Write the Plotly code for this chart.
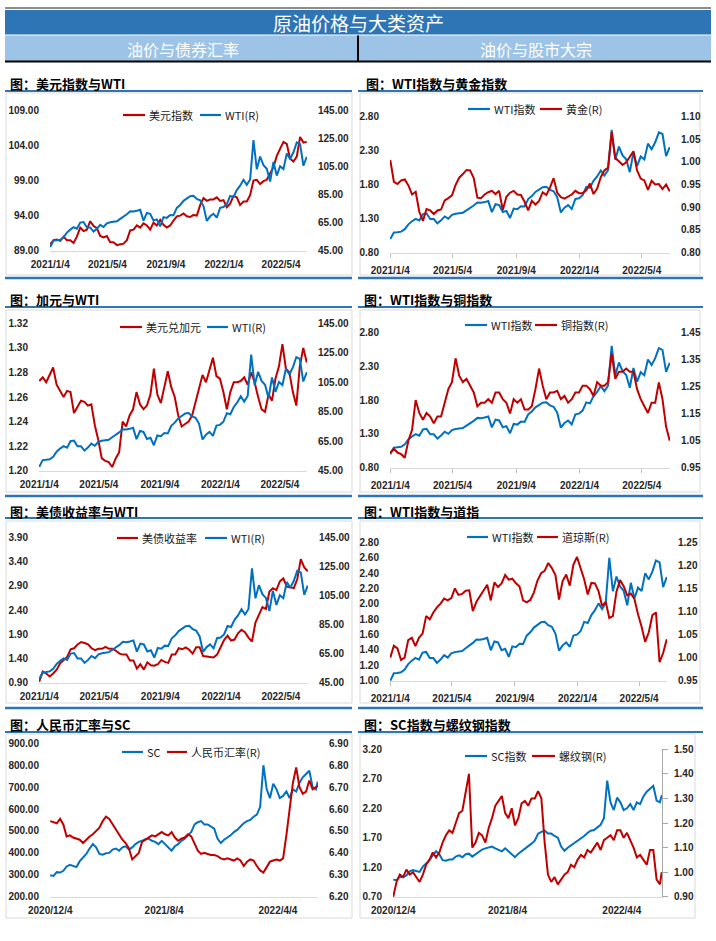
import plotly.graph_objects as go
import pandas as pd

W, H = 716, 941
RED = "#C00000"
BLUE = "#0070C0"
CJK = "Noto Sans CJK SC"
NUM = "Liberation Sans"
TXT = "#262626"

# ---------------- dates ----------------
dates_a = list(pd.date_range("2021-01-04", "2022-06-27", freq="7D"))
dates_b = list(pd.date_range("2020-12-04", "2022-06-24", freq="7D")) + [pd.Timestamp("2022-06-28")]

ticks_a = ["2021-01-04", "2021-05-04", "2021-09-04", "2022-01-04", "2022-05-04"]
ticks_a_text = ["2021/1/4", "2021/5/4", "2021/9/4", "2022/1/4", "2022/5/4"]
ticks_b = ["2020-12-04", "2021-08-04", "2022-04-04"]
ticks_b_text = ["2020/12/4", "2021/8/4", "2022/4/4"]

# ---------------- series (weekly readings) ----------------
wti = [47.6, 52.2, 52.4, 52.8, 54.5, 57.9, 60.0, 61.7, 60.6, 65.0,
       65.4, 61.6, 61.6, 58.6, 60.7, 63.4, 61.9, 64.5, 65.3, 65.5,
       66.0, 67.7, 69.2, 71.0, 73.1, 72.9, 73.4, 74.1, 66.4, 71.9,
       71.3, 66.5, 67.3, 62.3, 68.9, 68.4, 70.5, 70.3, 75.5, 77.6,
       80.5, 82.4, 83.8, 84.1, 81.9, 80.9, 76.8, 66.2, 69.5, 71.3,
       68.6, 75.6, 76.1, 78.2, 84.0, 83.3, 88.2, 91.3, 95.5, 91.9,
       95.7, 123.7, 103.0, 112.1, 105.9, 103.3, 94.3, 108.2, 98.5, 105.2,
       103.1, 114.2, 110.3, 115.1, 122.1, 120.9, 105.5, 111.8]

wti_idx = [1.000, 1.097, 1.101, 1.109, 1.145, 1.216, 1.261, 1.296, 1.273, 1.366,
           1.374, 1.294, 1.294, 1.231, 1.275, 1.332, 1.300, 1.355, 1.372, 1.376,
           1.387, 1.422, 1.454, 1.492, 1.536, 1.532, 1.542, 1.557, 1.395, 1.511,
           1.498, 1.397, 1.414, 1.309, 1.447, 1.437, 1.481, 1.477, 1.586, 1.630,
           1.691, 1.731, 1.761, 1.767, 1.721, 1.700, 1.613, 1.391, 1.460, 1.498,
           1.441, 1.588, 1.599, 1.643, 1.765, 1.750, 1.853, 1.918, 2.006, 1.931,
           2.011, 2.599, 2.164, 2.355, 2.225, 2.170, 1.981, 2.273, 2.069, 2.210,
           2.166, 2.399, 2.317, 2.418, 2.565, 2.540, 2.216, 2.349]

dxy = [89.9, 90.5, 90.6, 90.4, 91.0, 90.5, 90.5, 90.1, 91.0, 92.3,
       91.8, 92.0, 93.2, 92.5, 92.2, 91.1, 90.9, 91.1, 90.2, 90.2,
       89.8, 89.9, 90.0, 90.5, 91.9, 92.0, 92.6, 92.3, 92.9, 92.6,
       92.0, 93.0, 92.6, 93.4, 92.7, 92.3, 92.6, 93.3, 93.9, 94.0,
       94.3, 93.9, 93.8, 94.1, 94.0, 95.5, 96.5, 96.1, 96.3, 96.3,
       96.6, 96.1, 96.2, 95.2, 95.7, 96.8, 96.6, 95.5, 96.0, 96.0,
       96.9, 99.0, 99.1, 98.5, 98.9, 99.1, 100.0, 100.9, 102.5, 103.6,
       104.5, 104.2, 102.1, 101.7, 102.4, 105.2, 104.4, 104.5]

usdcad = [1.273, 1.276, 1.272, 1.278, 1.284, 1.270, 1.265, 1.260, 1.265, 1.264,
          1.247, 1.252, 1.257, 1.256, 1.253, 1.254, 1.237, 1.225, 1.210, 1.208,
          1.207, 1.203, 1.210, 1.215, 1.240, 1.236, 1.245, 1.250, 1.264, 1.254,
          1.250, 1.253, 1.262, 1.283, 1.262, 1.255, 1.268, 1.281, 1.268, 1.260,
          1.245, 1.236, 1.238, 1.240, 1.245, 1.256, 1.268, 1.278, 1.272, 1.283,
          1.292, 1.277, 1.275, 1.264, 1.250, 1.264, 1.272, 1.272, 1.273, 1.276,
          1.270, 1.280, 1.272, 1.260, 1.250, 1.248, 1.262, 1.257, 1.275, 1.285,
          1.303, 1.283, 1.280, 1.264, 1.253, 1.285, 1.300, 1.288]

ust10y = [0.92, 1.13, 1.09, 1.03, 1.09, 1.17, 1.30, 1.37, 1.43, 1.59,
          1.61, 1.69, 1.74, 1.72, 1.69, 1.61, 1.57, 1.60, 1.60, 1.64,
          1.60, 1.60, 1.56, 1.50, 1.48, 1.48, 1.36, 1.36, 1.19, 1.28,
          1.17, 1.32, 1.26, 1.25, 1.28, 1.37, 1.33, 1.31, 1.48, 1.48,
          1.61, 1.59, 1.63, 1.58, 1.50, 1.63, 1.63, 1.45, 1.44, 1.42,
          1.42, 1.48, 1.63, 1.78, 1.87, 1.77, 1.79, 1.92, 1.99, 1.94,
          1.83, 1.75, 2.14, 2.32, 2.46, 2.42, 2.78, 2.85, 2.81, 2.99,
          3.05, 2.88, 2.86, 2.85, 3.04, 3.45, 3.28, 3.20]

gold_idx = [1.004, 0.956, 0.951, 0.959, 0.961, 0.948, 0.928, 0.934, 0.890, 0.870,
            0.896, 0.893, 0.885, 0.893, 0.895, 0.915, 0.920, 0.926, 0.949, 0.965,
            0.973, 0.982, 0.981, 0.964, 0.921, 0.920, 0.928, 0.933, 0.936, 0.929,
            0.936, 0.894, 0.923, 0.932, 0.936, 0.928, 0.927, 0.912, 0.893, 0.914,
            0.906, 0.914, 0.933, 0.927, 0.943, 0.964, 0.932, 0.922, 0.919, 0.923,
            0.928, 0.936, 0.931, 0.931, 0.937, 0.952, 0.929, 0.941, 0.966, 0.981,
            0.987, 1.065, 1.008, 1.001, 0.993, 0.999, 1.010, 1.023, 0.981, 0.963,
            0.959, 0.938, 0.958, 0.950, 0.951, 0.940, 0.950, 0.935]

copper_idx = [1.005, 1.020, 1.006, 1.000, 0.987, 1.050, 1.089, 1.200, 1.152, 1.127,
              1.152, 1.139, 1.114, 1.139, 1.139, 1.190, 1.240, 1.266, 1.354, 1.290,
              1.266, 1.278, 1.253, 1.228, 1.177, 1.190, 1.190, 1.203, 1.190, 1.228,
              1.228, 1.203, 1.190, 1.150, 1.203, 1.190, 1.203, 1.165, 1.165, 1.177,
              1.240, 1.316, 1.253, 1.203, 1.228, 1.228, 1.234, 1.203, 1.215, 1.190,
              1.203, 1.228, 1.228, 1.253, 1.253, 1.240, 1.215, 1.266, 1.253, 1.253,
              1.266, 1.370, 1.278, 1.304, 1.304, 1.316, 1.304, 1.304, 1.240, 1.203,
              1.177, 1.152, 1.190, 1.190, 1.265, 1.203, 1.101, 1.050]

dow_idx = [1.000, 1.026, 1.020, 0.995, 1.000, 1.038, 1.043, 1.025, 1.043, 1.052,
           1.090, 1.083, 1.098, 1.109, 1.117, 1.128, 1.124, 1.129, 1.150, 1.136,
           1.138, 1.145, 1.146, 1.101, 1.121, 1.134, 1.144, 1.158, 1.124, 1.163,
           1.153, 1.161, 1.179, 1.169, 1.171, 1.161, 1.154, 1.124, 1.120, 1.125,
           1.141, 1.167, 1.183, 1.188, 1.205, 1.194, 1.179, 1.126, 1.166, 1.180,
           1.156, 1.201, 1.218, 1.193, 1.170, 1.137, 1.162, 1.161, 1.144, 1.112,
           1.121, 1.086, 1.090, 1.143, 1.168, 1.155, 1.135, 1.139, 1.127, 1.094,
           1.067, 1.034, 1.055, 1.092, 1.098, 0.990, 1.010, 1.040]

sc = [298, 295, 312, 310, 318, 338, 345, 340, 335, 362,
      378, 395, 420, 440, 425, 395, 392, 398, 400, 415,
      420, 410, 425, 430, 415, 425, 440, 450, 455, 462,
      465, 455, 450, 440, 455, 440, 425, 410, 430, 440,
      455, 465, 480, 495, 530, 540, 545, 530, 530, 520,
      510, 465, 445, 460, 470, 480, 495, 505, 520, 535,
      545, 550, 565, 575, 610, 800, 690, 650, 715, 690,
      650, 660, 680, 650, 690, 680, 720, 745, 760, 775,
      700, 690, 725]

usdcny = [6.545, 6.540, 6.535, 6.555, 6.530, 6.475, 6.480, 6.470, 6.465, 6.460,
          6.445, 6.460, 6.475, 6.485, 6.500, 6.515, 6.545, 6.565, 6.555, 6.530,
          6.510, 6.480, 6.460, 6.445, 6.420, 6.370, 6.385, 6.400, 6.450, 6.460,
          6.470, 6.480, 6.475, 6.485, 6.495, 6.485, 6.480, 6.495, 6.470, 6.455,
          6.465, 6.470, 6.485, 6.475, 6.445, 6.410, 6.395, 6.400, 6.395, 6.390,
          6.390, 6.385, 6.375, 6.370, 6.375, 6.370, 6.365, 6.375, 6.365, 6.340,
          6.360, 6.370, 6.365, 6.340, 6.320, 6.310, 6.335, 6.360, 6.365, 6.370,
          6.365, 6.375, 6.480, 6.600, 6.720, 6.790, 6.700, 6.670, 6.680, 6.730,
          6.690, 6.700, 6.705]

sc_idx = [0.99, 0.98, 1.04, 1.03, 1.06, 1.13, 1.15, 1.13, 1.12, 1.21,
          1.26, 1.32, 1.40, 1.47, 1.42, 1.32, 1.31, 1.33, 1.33, 1.38,
          1.40, 1.37, 1.42, 1.43, 1.38, 1.42, 1.47, 1.50, 1.52, 1.54,
          1.55, 1.52, 1.50, 1.47, 1.52, 1.47, 1.42, 1.37, 1.43, 1.47,
          1.52, 1.55, 1.60, 1.65, 1.77, 1.80, 1.82, 1.77, 1.77, 1.73,
          1.70, 1.55, 1.48, 1.53, 1.57, 1.60, 1.65, 1.68, 1.73, 1.78,
          1.82, 1.83, 1.88, 1.92, 2.03, 2.67, 2.30, 2.17, 2.38, 2.30,
          2.17, 2.20, 2.27, 2.17, 2.30, 2.27, 2.40, 2.48, 2.53, 2.58,
          2.33, 2.30, 2.42]

rebar_idx = [0.90, 0.96, 0.99, 0.98, 1.01, 0.99, 1.00, 0.98, 0.96, 0.99,
             1.03, 1.05, 1.08, 1.06, 1.08, 1.12, 1.15, 1.17, 1.16, 1.20,
             1.24, 1.25, 1.32, 1.40, 1.10, 1.12, 1.16, 1.15, 1.12, 1.18,
             1.22, 1.27, 1.29, 1.31, 1.24, 1.22, 1.26, 1.19, 1.22, 1.28,
             1.29, 1.27, 1.30, 1.30, 1.33, 1.30, 1.12, 0.99, 0.96, 0.98,
             0.95, 0.97, 0.99, 1.00, 1.03, 1.02, 1.05, 1.07, 1.06, 1.09,
             1.08, 1.10, 1.12, 1.09, 1.13, 1.14, 1.15, 1.13, 1.17, 1.17,
             1.14, 1.16, 1.13, 1.10, 1.06, 1.07, 1.05, 1.03, 1.09, 1.09,
             0.97, 0.95, 1.00]


def fx(p):
    return p / W


def fy(p):
    return 1 - p / H


RANGE_A = ["2021-01-03 12:00", "2022-06-27 12:00"]
RANGE_B = ["2020-12-03 12:00", "2022-06-28 12:00"]

# legend geometry: (y, line1 x0, line1 x1, text1 x, line2 x0, line2 x1, text2 x)
panels = [
    dict(x0=50, x1=307, yt=110, yb=251, d=dates_a, xr=RANGE_A, tv=ticks_a, tt=ticks_a_text, xt=False,
         lr=[89, 109], ld=5, rr=[45, 145], rd=20,
         lv=dxy, ln="美元指数", lc=RED, rv=wti, rn="WTI(R)", rc=BLUE,
         leg=(115, 123, 145, 147, 200, 221, 223)),
    dict(x0=390, x1=670, yt=116, yb=253, d=dates_a, xr=RANGE_A, tv=ticks_a, tt=ticks_a_text, xt=True,
         lr=[0.8, 2.8], ld=0.5, rr=[0.8, 1.1], rd=0.05,
         lv=wti_idx, ln="WTI指数", lc=BLUE, rv=gold_idx, rn="黄金(R)", rc=RED,
         leg=(109, 468, 490, 492, 540, 562, 564)),
    dict(x0=39, x1=307, yt=323, yb=471, d=dates_a, xr=RANGE_A, tv=ticks_a, tt=ticks_a_text, xt=False,
         lr=[1.20, 1.32], ld=0.02, rr=[45, 145], rd=20,
         lv=usdcad, ln="美元兑加元", lc=RED, rv=wti, rn="WTI(R)", rc=BLUE,
         leg=(327, 120, 142, 144, 207, 228, 230)),
    dict(x0=390, x1=670, yt=332, yb=468, d=dates_a, xr=RANGE_A, tv=ticks_a, tt=ticks_a_text, xt=True,
         lr=[0.8, 2.8], ld=0.5, rr=[0.95, 1.45], rd=0.1,
         lv=wti_idx, ln="WTI指数", lc=BLUE, rv=copper_idx, rn="铜指数(R)", rc=RED,
         leg=(325, 465, 487, 489, 535, 557, 559)),
    dict(x0=39, x1=308, yt=537, yb=683, d=dates_a, xr=RANGE_A, tv=ticks_a, tt=ticks_a_text, xt=False,
         lr=[0.9, 3.9], ld=0.5, rr=[45, 145], rd=20,
         lv=ust10y, ln="美债收益率", lc=RED, rv=wti, rn="WTI(R)", rc=BLUE,
         leg=(538, 117, 138, 140, 205, 227, 229)),
    dict(x0=390, x1=667, yt=542, yb=681, d=dates_a, xr=RANGE_A, tv=ticks_a, tt=ticks_a_text, xt=True,
         lr=[1.0, 2.8], ld=0.2, rr=[0.95, 1.25], rd=0.05,
         lv=wti_idx, ln="WTI指数", lc=BLUE, rv=dow_idx, rn="道琼斯(R)", rc=RED,
         leg=(537, 467, 488, 490, 537, 558, 560)),
    dict(x0=50, x1=318, yt=743, yb=897, d=dates_b, xr=RANGE_B, tv=ticks_b, tt=ticks_b_text, xt=False,
         lr=[200, 900], ld=100, rr=[6.2, 6.9], rd=0.1,
         lv=sc, ln="SC", lc=BLUE, rv=usdcny, rn="人民币汇率(R)", rc=RED,
         leg=(752, 122, 143, 145, 167, 187, 189)),
    dict(x0=393, x1=662, yt=749, yb=897, d=dates_b, xr=RANGE_B, tv=ticks_b, tt=ticks_b_text, xt=False,
         lr=[0.7, 3.2], ld=0.5, rr=[0.9, 1.5], rd=0.1,
         lv=sc_idx, ln="SC指数", lc=BLUE, rv=rebar_idx, rn="螺纹钢(R)", rc=RED,
         leg=(756, 465, 487, 489, 532, 555, 557), rline=True),
]

shapes = []
annotations = []


def line(x0, y0, x1, y1, color, width):
    shapes.append(dict(type="line", xref="paper", yref="paper", x0=fx(x0), y0=fy(y0), x1=fx(x1), y1=fy(y1),
                       line=dict(color=color, width=width)))


def rect(x0, y0, x1, y1, fill=None, color=None, width=0):
    shapes.append(dict(type="rect", xref="paper", yref="paper", x0=fx(x0), y0=fy(y0), x1=fx(x1), y1=fy(y1),
                       fillcolor=fill if fill else "rgba(0,0,0,0)",
                       line=dict(color=color if color else "rgba(0,0,0,0)", width=width), layer="below"))


def text(t, x, y, size, color, anchor="left", family=CJK):
    annotations.append(dict(text=t, x=fx(x), y=fy(y), xref="paper", yref="paper", showarrow=False,
                            xanchor=anchor, yanchor="middle", font=dict(family=family, size=size, color=color)))


tickfont = dict(family=NUM, size=10, color=TXT, weight="bold")
fig = go.Figure()
layout = {}
for k, p in enumerate(panels, start=1):
    xs = "" if k == 1 else str(k)
    yl = 2 * k - 1
    yr = 2 * k
    yls = "" if yl == 1 else str(yl)
    yrs = str(yr)
    fig.add_trace(go.Scatter(x=p["d"], y=p["lv"], name=p["ln"], mode="lines",
                             line=dict(color=p["lc"], width=2), xaxis="x" + xs, yaxis="y" + yls,
                             showlegend=False, hoverinfo="skip"))
    fig.add_trace(go.Scatter(x=p["d"], y=p["rv"], name=p["rn"], mode="lines",
                             line=dict(color=p["rc"], width=2), xaxis="x" + xs, yaxis="y" + yrs,
                             showlegend=False, hoverinfo="skip"))
    layout["xaxis" + xs] = dict(domain=[fx(p["x0"]), fx(p["x1"])], anchor="y" + yls, type="date",
                                range=p["xr"], tickmode="array", tickvals=p["tv"], ticktext=p["tt"],
                                showline=True, linecolor="#D9D9D9", linewidth=1,
                                ticks="outside" if p["xt"] else "", ticklen=4, tickcolor="#BFBFBF",
                                showgrid=False, zeroline=False, tickfont=tickfont,
                                ticklabelstandoff=4, automargin=False, fixedrange=True)
    le = (p["lr"][1] - p["lr"][0]) * 0.002
    re = (p["rr"][1] - p["rr"][0]) * 0.002
    layout["yaxis" + yls] = dict(domain=[fy(p["yb"]), fy(p["yt"])], anchor="x" + xs,
                                 range=[p["lr"][0] - le, p["lr"][1] + le], tick0=p["lr"][0], dtick=p["ld"],
                                 tickformat=".2f", showgrid=False, zeroline=False, showline=False,
                                 ticks="", tickfont=tickfont, ticklabelstandoff=10, automargin=False,
                                 fixedrange=True)
    ry = dict(overlaying="y" + yls, anchor="x" + xs, side="right",
              range=[p["rr"][0] - re, p["rr"][1] + re], tick0=p["rr"][0], dtick=p["rd"],
              tickformat=".2f", showgrid=False, zeroline=False, tickfont=tickfont,
              ticklabelstandoff=10, automargin=False, fixedrange=True)
    if p.get("rline"):
        ry.update(showline=True, linecolor="#A6A6A6", linewidth=1, ticks="outside", ticklen=5,
                  tickcolor="#A6A6A6", ticklabelstandoff=4)
    else:
        ry.update(showline=False, ticks="")
    layout["yaxis" + yrs] = ry
    # custom legend
    ly, a0, a1, at, b0, b1, bt = p["leg"]
    line(a0, ly, a1, ly, p["lc"], 2.2)
    text(p["ln"], at, ly, 11, "#1A1A1A")
    line(b0, ly, b1, ly, p["rc"], 2.2)
    text(p["rn"], bt, ly, 11, "#1A1A1A")

# header
line(5, 8, 711, 8, "#8C8C8C", 2)
rect(5, 10, 711, 34.5, fill="#2E75B6")
rect(5, 35.5, 711, 61, fill="#9DC3E6")
line(5, 61.5, 711, 61.5, "#000000", 2)
line(358, 35.5, 358, 61, "#000000", 2)

BL = "#2E75B6"
rows = [(91, 93, 275, 278), (307, 310, 492, 496), (518, 521, 703, 708), (732, 734, 918, None)]
for ul, bt_, bb, sep in rows:
    line(5, ul, 352, ul, BL, 2)
    line(358, ul, 703, ul, BL, 2)
    rect(6, bt_, 352, bb, color="#D9D9D9", width=1)
    rect(360, bt_, 700 if sep else 695, bb, color="#D9D9D9", width=1)
    if sep:
        line(5, sep, 352, sep, BL, 2.5)
        line(358, sep, 703, sep, BL, 2.5)

text("原油价格与大类资产", 358, 22.5, 19, "white", anchor="center")
text("油价与债券汇率", 183, 48.5, 16, "white", anchor="center")
text("油价与股市大宗", 536, 48.5, 16, "white", anchor="center")

titles = [("图：美元指数与WTI", 8, 83), ("图：WTI指数与黄金指数", 364, 83),
          ("图：加元与WTI", 8, 299), ("图：WTI指数与铜指数", 362, 299),
          ("图：美债收益率与WTI", 8, 511), ("图：WTI指数与道指", 362, 511),
          ("图：人民币汇率与SC", 8, 724), ("图：SC指数与螺纹钢指数", 362, 724)]
for t, x, y in titles:
    text("<b>" + t + "</b>", x, y, 13, "#000000")

fig.update_layout(width=W, height=H, autosize=False,
                  margin=dict(l=0, r=0, t=0, b=0, pad=0, autoexpand=False),
                  paper_bgcolor="white", plot_bgcolor="white", showlegend=False,
                  hovermode=False, dragmode=False,
                  shapes=shapes, annotations=annotations, **layout)

fig.write_html("out.html", config={"displayModeBar": False, "staticPlot": True},
               post_script="document.body.style.margin='0px';document.body.style.overflow='hidden';")
